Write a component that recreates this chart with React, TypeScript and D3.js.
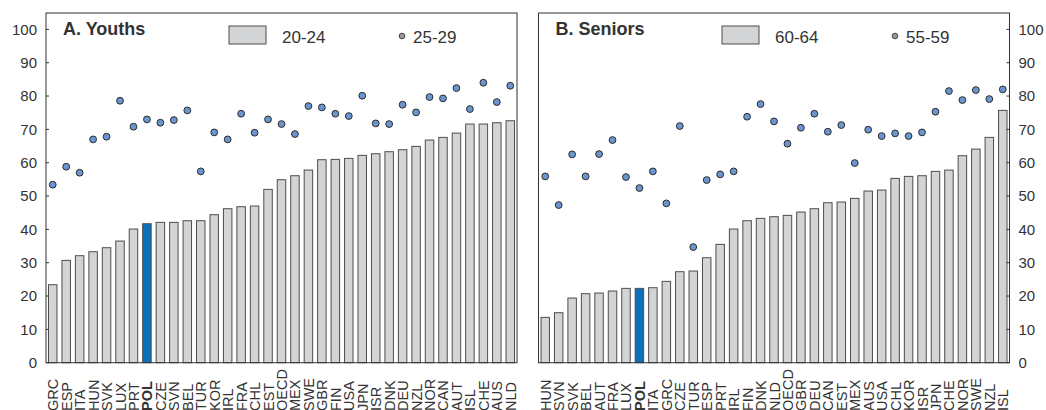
import React from "react";
import { scaleBand, scaleLinear } from "d3";

// Panel A: youths
const youthCountries = ["GRC", "ESP", "ITA", "HUN", "SVK", "LUX", "PRT", "POL", "CZE", "SVN", "BEL", "TUR", "KOR", "IRL", "FRA", "CHL", "EST", "OECD", "MEX", "SWE", "GBR", "FIN", "USA", "JPN", "ISR", "DNK", "DEU", "NZL", "NOR", "CAN", "AUT", "ISL", "CHE", "AUS", "NLD"];
const youth2024 = [23.4, 30.7, 32.1, 33.3, 34.5, 36.5, 40.1, 41.7, 42.1, 42.1, 42.6, 42.6, 44.4, 46.2, 46.8, 47.0, 52.0, 54.9, 56.1, 57.8, 60.9, 61.0, 61.3, 62.2, 62.7, 63.3, 63.9, 64.9, 66.8, 67.6, 68.9, 71.6, 71.6, 72.0, 72.6];
const youth2529 = [53.4, 58.8, 57.0, 67.0, 67.8, 78.6, 70.8, 73.0, 72.0, 72.8, 75.7, 57.4, 69.1, 67.0, 74.7, 69.0, 73.0, 71.6, 68.6, 77.0, 76.6, 74.7, 74.0, 80.1, 71.8, 71.6, 77.4, 75.1, 79.7, 79.3, 82.4, 76.1, 84.0, 78.2, 83.1];

// Panel B: seniors
const seniorCountries = ["HUN", "SVN", "SVK", "BEL", "AUT", "FRA", "LUX", "POL", "ITA", "GRC", "CZE", "TUR", "ESP", "PRT", "IRL", "FIN", "DNK", "NLD", "OECD", "GBR", "DEU", "CAN", "EST", "MEX", "AUS", "USA", "CHL", "KOR", "ISR", "JPN", "CHE", "NOR", "SWE", "NZL", "ISL"];
const senior6064 = [13.6, 15.0, 19.4, 20.7, 20.9, 21.5, 22.3, 22.3, 22.5, 24.4, 27.3, 27.5, 31.5, 35.5, 40.1, 42.6, 43.3, 43.8, 44.2, 45.2, 46.2, 48.0, 48.2, 49.3, 51.5, 51.8, 55.3, 55.9, 56.1, 57.4, 57.8, 62.1, 64.1, 67.6, 75.7];
const senior5559 = [55.9, 47.3, 62.5, 55.9, 62.6, 66.8, 55.7, 52.4, 57.4, 47.8, 71.0, 34.7, 54.8, 56.5, 57.4, 73.8, 77.6, 72.4, 65.7, 70.5, 74.7, 69.3, 71.3, 59.9, 69.9, 68.0, 68.8, 68.0, 69.1, 75.3, 81.5, 78.8, 81.8, 79.1, 82.0];

const yTicks = [0, 10, 20, 30, 40, 50, 60, 70, 80, 90, 100];

const FONT = "'Liberation Sans', Arial, sans-serif";
const TEXT = "#333";
const BAR = "#d3d4d6";
const BAR_STROKE = "#4d4d4d";
const HIGHLIGHT = "#0b72b9";
const DOT = "#6a95cf";

const y = scaleLinear().domain([0, 100]).range([362.7, 29.4]);

function Panel({ x0, x1, title, countries, bars, dots, barLabel, dotLabel, axisSide, legendX }) {
  const x = scaleBand().domain(countries).range([x0, x1]).paddingInner(0.37).paddingOuter(0.185);
  const bw = x.bandwidth();
  const top = 13;
  const bottom = y(0);
  const axisX = axisSide === "left" ? x0 : x1;
  return (
    <g>
      {bars.map((v, i) => {
        const c = countries[i];
        return (
          <rect
            key={c}
            x={x(c)}
            y={y(v)}
            width={bw}
            height={bottom - y(v)}
            fill={c === "POL" ? HIGHLIGHT : BAR}
            stroke={BAR_STROKE}
            strokeWidth={1}
          />
        );
      })}
      {dots.map((v, i) => (
        <circle
          key={countries[i]}
          cx={x(countries[i]) + bw / 2}
          cy={y(v)}
          r={3.4}
          fill={DOT}
          stroke="#2b2b2b"
          strokeWidth={1}
        />
      ))}
      <rect x={x0} y={top} width={x1 - x0} height={bottom - top} fill="none" stroke="#333" strokeWidth={1} />
      {yTicks.map((t) => (
        <g key={t}>
          <line
            x1={axisX}
            x2={axisSide === "left" ? axisX + 3 : axisX - 3}
            y1={y(t)}
            y2={y(t)}
            stroke="#333"
          />
          <text
            x={axisSide === "left" ? axisX - 9 : axisX + 9}
            y={y(t)}
            dy="0.36em"
            textAnchor={axisSide === "left" ? "end" : "start"}
            fontSize={15}
            fill={TEXT}
          >
            {t}
          </text>
        </g>
      ))}
      {countries.map((c) => (
        <text
          key={c}
          transform={`translate(${x(c) + bw / 2 + 5.5},411) rotate(-90)`}
          fontSize={14.5}
          fontWeight={c === "POL" ? "bold" : "normal"}
          fill={TEXT}
        >
          {c}
        </text>
      ))}
      <text x={x0 + 17} y={35} fontSize={18} fontWeight="bold" fill={TEXT}>
        {title}
      </text>
      <rect x={legendX} y={26} width={37} height={18} fill={BAR} stroke={BAR_STROKE} />
      <text x={legendX + 53} y={42.5} fontSize={17} fill={TEXT}>
        {barLabel}
      </text>
      <circle cx={legendX + 173} cy={36} r={2.8} fill="#999" stroke="#444" />
      <text x={legendX + 184} y={42.5} fontSize={17} fill={TEXT}>
        {dotLabel}
      </text>
    </g>
  );
}

export default function App() {
  return (
    <svg
      width={1046}
      height={410}
      style={{ position: "absolute", left: 0, top: 0, background: "#fff" }}
      fontFamily={FONT}
    >
      <Panel
        x0={46}
        x1={517}
        title="A. Youths"
        countries={youthCountries}
        bars={youth2024}
        dots={youth2529}
        barLabel="20-24"
        dotLabel="25-29"
        axisSide="left"
        legendX={229}
      />
      <Panel
        x0={538.5}
        x1={1009.5}
        title="B. Seniors"
        countries={seniorCountries}
        bars={senior6064}
        dots={senior5559}
        barLabel="60-64"
        dotLabel="55-59"
        axisSide="right"
        legendX={722}
      />
    </svg>
  );
}
